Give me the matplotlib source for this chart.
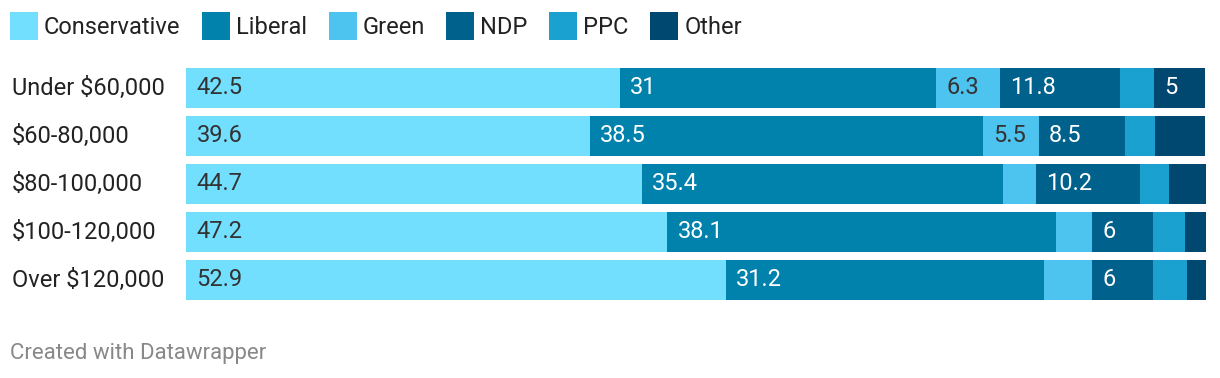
import matplotlib
matplotlib.use('Agg')
import matplotlib.pyplot as plt
from matplotlib.patches import Rectangle
from matplotlib import transforms

plt.rcParams['font.family'] = ['Roboto', 'DejaVu Sans']

# Data
groups = ['Under $60,000', '$60-80,000', '$80-100,000', '$100-120,000', 'Over $120,000']
parties = ['Conservative', 'Liberal', 'Green', 'NDP', 'PPC', 'Other']
conservative = [42.5, 39.6, 44.7, 47.2, 52.9]
liberal = [31, 38.5, 35.4, 38.1, 31.2]
green = [6.3, 5.5, 3.2, 3.5, 4.7]
ndp = [11.8, 8.5, 10.2, 6, 6]
ppc = [3.3, 2.9, 2.9, 3.1, 3.3]
other = [5, 4.9, 3.6, 2.4, 2.0]

colors = ['#73dfff', '#0082ad', '#4dc3ef', '#00628c', '#1aa1d0', '#004870']
text_colors = ['#333333', 'white', '#333333', 'white', 'white', 'white']
series = [conservative, liberal, green, ndp, ppc, other]

W, H = 1220, 378
fig = plt.figure(figsize=(W / 100, H / 100), dpi=100)
ax = fig.add_axes([186 / W, 1 - 304 / H, 1020 / W, 240 / H])

rows = list(range(len(groups)))
left = [0] * len(groups)
for vals, col, tcol in zip(series, colors, text_colors):
    ax.barh(rows, vals, left=left, height=40 / 48, color=col, linewidth=0)
    for i, v in enumerate(vals):
        # datawrapper hides labels on small segments
        if v >= 5:
            ax.annotate(f'{v:g}', xy=(left[i], i), xytext=(7.5, 0),
                        textcoords='offset points', va='center', ha='left',
                        fontsize=17, color=tcol)
    left = [l + v for l, v in zip(left, vals)]

ax.set_xlim(0, 100)
ax.set_ylim(4.5, -0.5)
ax.axis('off')

# Category labels on the left
trans = transforms.blended_transform_factory(fig.transFigure, ax.transData)
for i, g in enumerate(groups):
    ax.text(12 / W, i, g, transform=trans, ha='left', va='center',
            fontsize=17, color='#222222')

# Legend, laid out by hand like datawrapper does
renderer = fig.canvas.get_renderer()
x = 10
for name, col in zip(parties, colors):
    fig.patches.append(Rectangle((x / W, 1 - 40 / H), 28 / W, 28 / H,
                                 transform=fig.transFigure, facecolor=col,
                                 edgecolor='none'))
    t = fig.text((x + 34) / W, 1 - 27 / H, name, fontsize=17, color='#222222',
                 ha='left', va='center')
    x = x + 34 + t.get_window_extent(renderer).width + 21.5

fig.text(10 / W, 1 - 353 / H, 'Created with Datawrapper', fontsize=16,
         color='#888888', ha='left', va='center')

fig.savefig('out.png', dpi=100)
